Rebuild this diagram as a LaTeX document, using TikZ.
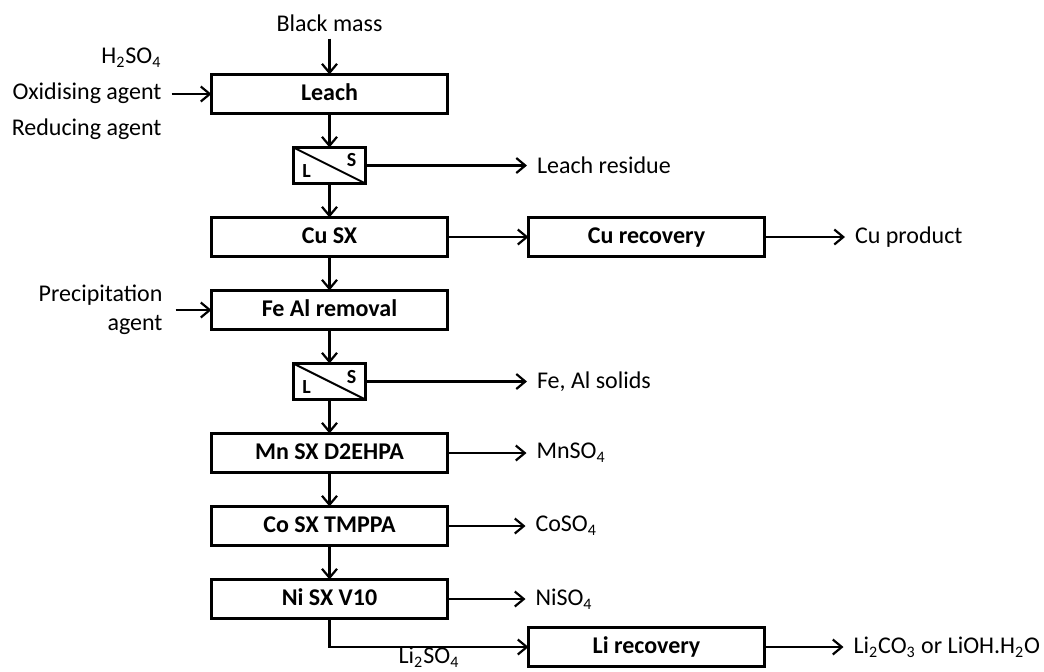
\documentclass[tikz,border=0pt]{standalone}
\usepackage{fontspec}
\setmainfont{Carlito}
\usetikzlibrary{arrows.meta,positioning}
\newcommand{\sbs}[1]{\textsubscript{#1}}
\tikzset{
  box/.style={draw,line width=1.6pt,fill=white,minimum width=118pt,minimum height=19.5pt,inner sep=2pt,outer sep=0pt,
    text height=8.5pt,text depth=2.5pt,font=\fontsize{12}{14}\selectfont\bfseries},
  sepbox/.style={box,minimum width=36pt,minimum height=18pt},
  ls/.style={font=\fontsize{10}{12}\selectfont\bfseries,inner sep=0pt},
  lbl/.style={inner sep=5pt,outer sep=0pt,font=\fontsize{12}{14}\selectfont},
  ar/.style={-{Straight Barb[length=4.5pt,width=7.5pt]},line width=1.1pt},
}
\begin{document}
\begin{tikzpicture}[node distance=17pt]
\useasboundingbox[fill=white] (0,0) rectangle (522pt,-335.5pt);
\node[box] (leach) at (164.75pt,-47pt) {Leach};
\node[sepbox,below=of leach] (sep1) {};
\node[box,below=of sep1] (cusx) {Cu SX};
\node[box,right=40.5pt of cusx] (curec) {Cu recovery};
\node[box,below=of cusx] (feal) {Fe Al removal};
\node[sepbox,below=of feal] (sep2) {};
\node[box,below=of sep2] (mnsx) {Mn SX D2EHPA};
\node[box,below=of mnsx] (cosx) {Co SX TMPPA};
\node[box,below=of cosx] (nisx) {Ni SX V10};
\node[box,below right=4.5pt and 40.5pt of nisx.south east] (lirec) {Li recovery};
\foreach \s in {sep1,sep2} {
  \draw[line width=1pt] (\s.north west) -- (\s.south east);
  \node[ls] at ([shift={(-11.5pt,-3pt)}]\s.center) {L};
  \node[ls] at ([shift={(11pt,2.5pt)}]\s.center) {S};
}
\node[lbl,above=18pt of leach,inner sep=3.5pt] (bm) {Black mass};
\node[lbl,left=20pt of leach,align=right,font=\fontsize{12}{18}\selectfont]
   (feed) {H\sbs{2}SO\sbs{4}\\Oxidising agent\\Reducing agent};
\node[lbl,left=18pt of feal,align=right,font=\fontsize{12}{14.5}\selectfont,inner sep=6.5pt] (prec) {Precipitation\\agent};
\node[lbl,right=80.75pt of sep1] (res) {Leach residue};
\node[lbl,right=40.25pt of curec] (cuprod) {Cu product};
\node[lbl,right=80.75pt of sep2] (fesol) {Fe, Al solids};
\node[lbl,right=39.5pt of mnsx] (mnso) {MnSO\sbs{4}};
\node[lbl,right=39pt of cosx] (coso) {CoSO\sbs{4}};
\node[lbl,right=39pt of nisx] (niso) {NiSO\sbs{4}};
\node[lbl,right=39.5pt of lirec] (liprod) {Li\sbs{2}CO\sbs{3} or LiOH.H\sbs{2}O};
\draw[ar] (bm) -- (leach);
\draw[ar] (feed) -- (leach);
\draw[ar] (leach) -- (sep1);
\draw[ar] (sep1) -- (res);
\draw[ar] (sep1) -- (cusx);
\draw[ar] (cusx) -- (curec);
\draw[ar] (curec) -- (cuprod);
\draw[ar] (cusx) -- (feal);
\draw[ar] (prec) -- (feal);
\draw[ar] (feal) -- (sep2);
\draw[ar] (sep2) -- (fesol);
\draw[ar] (sep2) -- (mnsx);
\draw[ar] (mnsx) -- (mnso);
\draw[ar] (mnsx) -- (cosx);
\draw[ar] (cosx) -- (coso);
\draw[ar] (cosx) -- (nisx);
\draw[ar] (nisx) -- (niso);
\draw[ar] (nisx) |- node[lbl,pos=0.75,below,inner sep=0pt] (liso) {Li\sbs{2}SO\sbs{4}} (lirec);
\draw[ar] (lirec) -- (liprod);
\end{tikzpicture}
\end{document}
